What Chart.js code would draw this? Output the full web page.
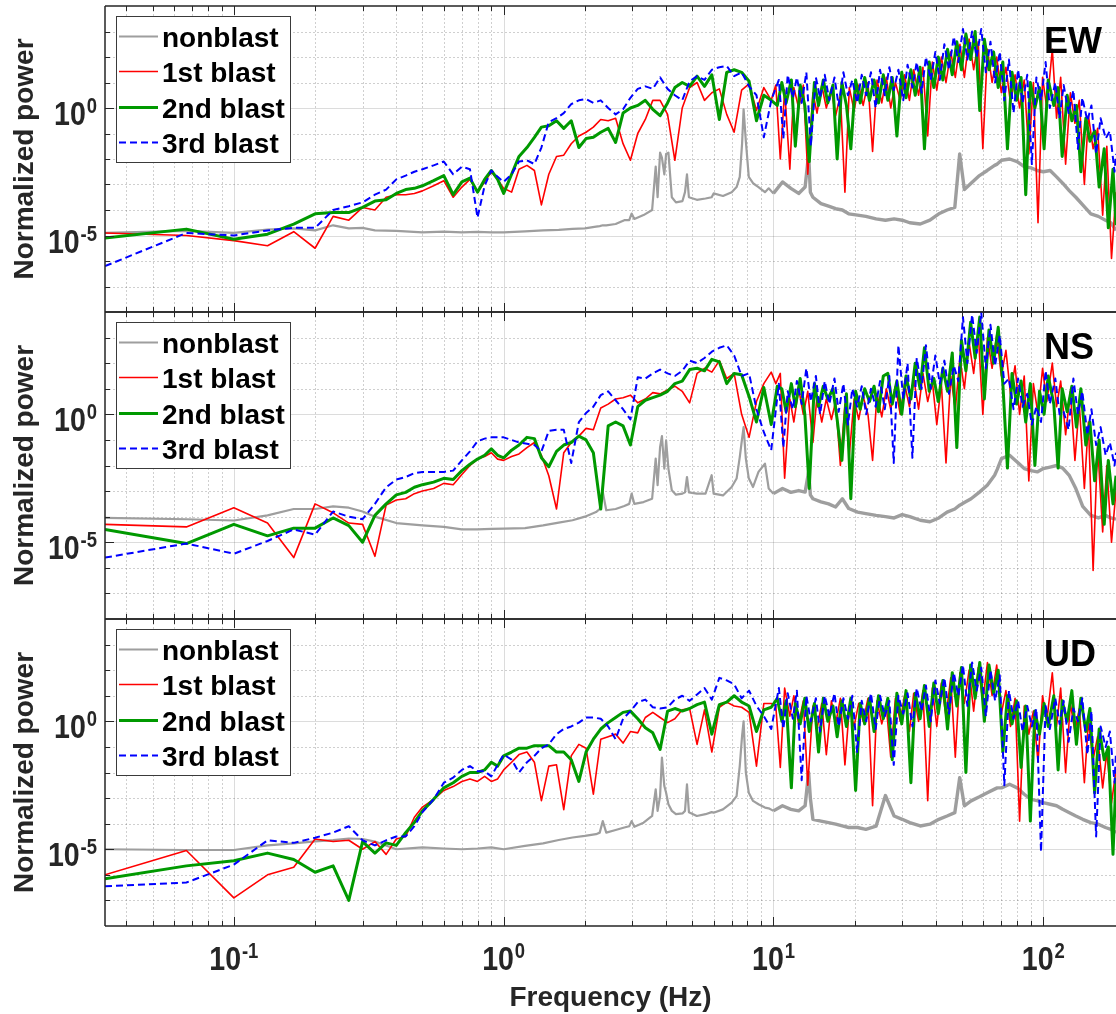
<!DOCTYPE html>
<html>
<head>
<meta charset="utf-8">
<title>Normalized power spectra</title>
<script src="https://cdn.jsdelivr.net/npm/chart.js@4.4.1/dist/chart.umd.min.js"></script>
<style>
  html, body { margin: 0; padding: 0; background: #fff; }
  #wrap { position: relative; width: 1116px; height: 1014px; overflow: hidden; }
  #wrap canvas { position: absolute; left: 0; top: 0; }
</style>
</head>
<body>
<div id="wrap">
  <canvas id="ew" width="1116" height="1014"></canvas>
  <canvas id="ns" width="1116" height="1014"></canvas>
  <canvas id="ud" width="1116" height="1014"></canvas>
</div>
<script>
// frequency bins (Hz) below 10 Hz, shared by the three blast records
const blastFreq = [
  0.0333, 0.0667, 0.1, 0.1333, 0.1667, 0.2, 0.2333, 0.2667, 0.3, 0.3333, 0.3667, 0.4, 0.4333, 0.4667, 0.5,
  0.55, 0.6, 0.65, 0.7, 0.75, 0.8, 0.85, 0.9, 0.95, 1.0,
  1.07, 1.14, 1.22, 1.3, 1.38, 1.47, 1.57, 1.67, 1.78, 1.9, 2.02, 2.15, 2.29, 2.44, 2.6, 2.77, 2.95, 3.14,
  3.35, 3.57, 3.8, 4.05, 4.31, 4.59, 4.89, 5.21, 5.55, 5.91, 6.3, 6.71, 7.15, 7.62, 8.12, 8.65, 9.21, 9.81
];
// bins above 10 Hz, one list per blast
const denseFreq1 = [
  10.2, 10.6, 11.0, 11.5, 11.9, 12.4, 12.9, 13.4, 14.0, 14.5, 15.1, 15.7, 16.4, 17.0, 17.7, 18.4, 19.1, 19.9,
  20.7, 21.5, 22.4, 23.3, 24.2, 25.2, 26.2, 27.2, 28.3, 29.5, 30.6, 31.9, 33.1, 34.5, 35.8, 37.3, 38.8, 40.3,
  41.9, 43.6, 45.4, 47.2, 49.1, 51.0, 53.1, 55.2, 57.4, 59.7, 62.1, 64.6, 67.2, 69.9, 72.7, 75.6, 78.6, 81.7,
  85.0, 88.4, 91.9, 95.6, 99.4, 103, 108, 112, 116, 121, 126, 131, 136, 142, 147, 153, 159, 166, 172, 179, 186
];
const denseFreq2 = [
  10.33, 10.74, 11.14, 11.65, 12.05, 12.56, 13.07, 13.57, 14.18, 14.69, 15.3, 15.9, 16.61, 17.22, 17.93, 18.64, 19.35, 20.16,
  20.97, 21.78, 22.69, 23.6, 24.51, 25.53, 26.54, 27.55, 28.67, 29.88, 31.0, 32.31, 33.53, 34.95, 36.27, 37.78, 39.3, 40.82,
  42.44, 44.17, 45.99, 47.81, 49.74, 51.66, 53.79, 55.92, 58.15, 60.48, 62.91, 65.44, 68.07, 70.81, 73.65, 76.58, 79.62, 82.76,
  86.1, 89.55, 93.09, 96.84, 100.7, 104.3, 109.4, 113.5, 117.5, 122.6, 127.6, 132.7, 137.8, 143.8, 148.9, 155.0, 161.1, 168.2, 174.2, 181.3, 186
];
const denseFreq3 = [
  10.47, 10.88, 11.29, 11.8, 12.21, 12.72, 13.24, 13.75, 14.36, 14.88, 15.49, 16.11, 16.83, 17.44, 18.16, 18.88, 19.6, 20.42,
  21.24, 22.06, 22.98, 23.91, 24.83, 25.86, 26.88, 27.91, 29.04, 30.27, 31.4, 32.73, 33.96, 35.4, 36.73, 38.27, 39.81, 41.35,
  42.99, 44.73, 46.58, 48.43, 50.38, 52.33, 54.48, 56.64, 58.89, 61.25, 63.71, 66.28, 68.95, 71.72, 74.59, 77.57, 80.64, 83.82,
  87.21, 90.7, 94.29, 98.09, 102.0, 105.7, 110.8, 114.9, 119.0, 124.1, 129.3, 134.4, 139.5, 145.7, 150.8, 157.0, 163.1, 170.3, 176.5, 183.7, 186
];

// frequency bins (Hz) of the nonblast record
const nonblastFreq = [
  0.0333, 0.0667, 0.1, 0.1333, 0.1667, 0.2, 0.2333, 0.2667, 0.3, 0.3333,
  0.4, 0.5, 0.6, 0.7, 0.8, 0.9, 1.0, 1.2, 1.4, 1.6,
  1.8, 2.0, 2.2, 2.27, 2.33, 2.4, 2.6, 2.8, 2.92, 2.98,
  3.05, 3.3, 3.55, 3.66, 3.72, 3.8, 3.86, 3.94, 4.0, 4.08,
  4.2, 4.35, 4.6, 4.7, 4.78, 4.86, 5.2, 5.6, 5.9, 6.0,
  6.5, 7.0, 7.3, 7.5, 7.65, 7.75, 7.9, 8.1, 8.4, 8.8,
  9.3, 9.6, 10, 10.8, 11.6, 12.4, 13.1, 13.5, 13.7, 14.0,
  15, 16, 17, 18, 19, 20.5, 22, 24, 26, 28,
  30, 32, 35, 38, 41, 44, 47, 49, 51, 54,
  58, 62, 66, 67.5, 70, 75, 80, 85, 90, 95,
  100, 106, 112, 118, 125, 132, 140, 150, 160, 170,
  178, 186
];

// normalized power, stored as log10 exponents

// EW component
const ewNonblast = [
  -4.9, -4.82, -4.9, -4.77, -4.72, -4.8, -4.6, -4.72, -4.7, -4.8,
  -4.82, -4.88, -4.85, -4.88, -4.86, -4.88, -4.88, -4.84, -4.8, -4.78,
  -4.74, -4.72, -4.65, -4.63, -4.6, -4.6, -4.55, -4.4, -4.4, -4.14,
  -4.35, -4.2, -4.0, -2.3, -3.5, -1.75, -1.95, -2.6, -1.8, -1.75,
  -3.5, -3.7, -3.65, -3.3, -2.6, -3.5, -3.6, -3.55, -3.5, -3.35,
  -3.45, -3.3, -3.1, -2.7, -1.4, -0.05, -1.3, -2.7, -2.95, -3.1,
  -3.3, -3.15, -3.35, -2.9, -3.15, -3.35, -3.1, -1.8, -3.3, -3.5,
  -3.75, -3.85, -3.95, -4.0, -4.15, -4.2, -4.25, -4.35, -4.4, -4.35,
  -4.4, -4.5, -4.55, -4.4, -4.15, -4.0, -3.9, -1.8, -3.2, -2.95,
  -2.65, -2.45, -2.25, -2.2, -2.05, -2.0, -2.1, -2.3, -2.35, -2.45,
  -2.5, -2.45, -2.7, -2.95, -3.25, -3.5, -3.8, -4.15, -4.25, -4.4,
  -4.5, -4.8
];
const ewBlast1 = [
  -4.9, -5.0, -5.2, -5.4, -4.85, -5.5, -4.25, -4.4, -3.9, -4.0, -3.5, -3.4, -3.4, -3.35, -3.25,
  -3.05, -2.85, -3.5, -3.1, -2.8, -3.3, -2.9, -2.5, -2.8, -3.15,
  -3.3, -2.4, -2.25, -2.45, -3.8, -2.6, -1.9, -1.85, -1.4, -1.1, -0.95, -0.75, -0.45, -0.5, -0.4, -1.4, -2.05, -1.0,
  -0.45, 0.3, 0.3, -0.25, -2.05, 0.0, 0.8, 1.0, 0.3, 0.6, 0.75, -0.25, -0.95, 0.7, 0.95, -0.1, 0.8, 0.3,
  0.9, -2.0, 0.7, -2.4, 0.8, 0.0, 0.9, -2.6, 0.6, -0.2, 0.9, 0.0, 0.7, -0.3, 0.5, -3.3, 0.8, -0.1,
  0.9, 0.1, 1.0, -1.7, 1.1, 0.2, 1.2, 0.0, 1.0, 0.3, 1.3, 0.3, 1.5, 0.5, 1.6, -1.1, 1.8, 0.7,
  2.0, 1.0, 2.2, 1.2, 2.5, 1.2, 2.7, 1.5, 2.6, -1.6, 2.3, 1.0, 2.0, 0.6, 1.6, 0.2, 1.3, 0.0,
  1.1, -1.8, 1.0, -4.5, 1.2, 0.0, 2.3, -0.4, 1.2, -2.2, 0.6, -0.6, 0.3, -3.0, -0.3, -1.6, -0.8, -4.2, -1.5, -5.9, -3.3
];
const ewBlast2 = [
  -5.1, -4.75, -5.15, -4.95, -4.55, -4.15, -4.1, -4.1, -3.9, -3.65, -3.6, -3.35, -3.2, -3.15, -3.05,
  -2.85, -2.65, -3.4, -2.9, -2.75, -3.3, -2.8, -2.45, -2.8, -3.35,
  -2.6, -1.9, -1.55, -1.15, -0.75, -0.7, -0.5, -0.8, -0.5, -1.55, -1.2, -1.15, -0.95, -0.8, -1.35, -0.2, 0.0, 0.1,
  0.3, -0.05, -0.3, 0.2, 0.8, 1.0, 0.85, 1.25, 0.85, 1.3, -0.45, 1.4, 1.5, 1.4, 1.05, -0.5, 0.5, 0.3,
  0.1, 1.0, 0.2, 1.1, -1.5, 0.9, 0.1, -2.1, 1.0, 0.1, 1.1, 0.2, 0.9, -2.0, 1.0, 0.1, -1.6, 1.1,
  0.2, 1.2, 0.3, 1.1, 0.2, 1.3, 0.3, 1.2, -1.1, 1.4, 0.4, 1.5, 0.5, 1.6, -1.6, 1.8, 0.8, 2.0,
  1.1, 2.3, 1.3, 2.6, 1.5, 2.9, 1.9, 3.0, -0.1, 2.7, 1.5, 2.2, 0.8, 1.8, -1.6, 1.4, 0.3, 1.2,
  -3.4, 1.0, 0.0, 0.8, -1.6, 1.1, 0.1, 0.8, -1.9, 0.5, -0.5, 0.1, -2.5, -0.4, -1.3, -0.9, -3.1, -1.6, -4.7, -2.4, -4.6
];
const ewBlast3 = [
  -6.2, -4.9, -5.0, -4.8, -4.7, -4.7, -4.0, -3.85, -3.7, -3.4, -3.2, -2.8, -2.65, -2.5, -2.4,
  -2.25, -2.1, -2.6, -2.3, -2.4, -4.3, -3.05, -2.45, -2.7, -2.9,
  -2.6, -2.1, -2.05, -2.2, -1.55, -0.55, -0.4, -0.2, 0.15, 0.3, 0.35, 0.2, 0.3, 0.0, -0.25, -0.05, 0.4, 0.75,
  0.85, 0.75, 1.2, 0.75, 0.5, 0.3, 1.05, 1.25, 1.1, 1.5, 1.6, 1.65, 1.25, 1.4, 0.85, 0.5, -1.15, 0.3,
  1.1, -1.2, 1.3, 0.4, 1.2, 0.2, 1.4, -1.5, 1.2, 0.4, 1.3, 0.3, 1.2, 0.1, 1.4, 0.5, 1.1, 0.2,
  1.3, 0.5, 1.4, 0.0, 1.5, 0.5, 1.6, 0.7, 1.5, 0.3, 1.7, 0.8, 1.8, 0.6, 2.0, 1.1, 2.2, 1.1,
  2.5, 1.5, 2.8, 1.8, 3.1, 1.9, 3.0, 2.0, 3.1, 1.4, 2.6, 1.0, 2.2, 0.3, 1.9, -0.2, 1.5, 0.2,
  1.3, -2.2, 1.2, 0.3, 1.8, 0.0, 1.0, -0.4, 0.9, -0.2, 0.7, -1.6, 0.4, -0.5, 0.1, -1.8, -0.4, -1.2, -0.9, -2.5, -1.8
];

// NS component
const nsNonblast = [
  -4.05, -4.1, -4.15, -3.95, -3.7, -3.7, -3.6, -3.65, -3.8, -4.0,
  -4.25, -4.34, -4.4, -4.5, -4.5, -4.48, -4.47, -4.45, -4.34, -4.23,
  -4.14, -4.0, -3.82, -3.7, -3.03, -3.75, -3.7, -3.58, -3.5, -3.1,
  -3.5, -3.43, -3.3, -1.73, -2.77, -1.28, -0.85, -2.12, -1.02, -2.12,
  -2.97, -3.14, -3.1, -3.05, -2.45, -3.05, -3.1, -3.1, -2.38, -3.1,
  -3.17, -2.84, -2.51, -1.67, -0.95, -0.5, -1.73, -2.5, -2.84, -2.25,
  -1.93, -2.9, -3.1, -2.9, -3.05, -2.98, -3.04, -2.25, -3.15, -3.3,
  -3.42, -3.5, -3.62, -3.3, -3.68, -3.82, -3.88, -3.95, -4.0, -4.05,
  -3.92, -4.0, -4.14, -4.2, -4.05, -3.82, -3.7, -3.55, -3.45, -3.3,
  -3.04, -2.77, -2.38, -2.15, -1.73, -1.6, -1.86, -2.12, -2.2, -2.25,
  -2.12, -2.06, -2.0, -2.1, -2.4, -2.9, -3.6, -3.95, -4.05, -3.95,
  -4.05, -4.1
];
const nsBlast1 = [
  -4.3, -4.4, -3.65, -4.25, -5.6, -3.5, -3.85, -4.25, -4.3, -5.55, -3.55, -3.35, -3.3, -3.1, -3.0,
  -2.9, -2.7, -2.75, -2.35, -2.0, -1.75, -1.65, -1.5, -1.75, -1.8,
  -1.65, -1.55, -1.3, -1.1, -1.6, -2.4, -3.7, -1.5, -1.1, -0.85, -0.55, -0.6, 0.25, 0.4, 0.6, 0.65, 0.75, 0.45,
  0.6, 0.85, 0.8, 0.95, 1.1, 0.9, 0.45, 1.6, 1.8, 1.65, 2.1, 1.4, 1.6, 0.0, -0.9, 0.5, 1.2, 1.65,
  1.2, 1.6, -2.5, 0.6, -0.3, 1.0, 0.0, 0.9, -1.1, 0.7, -0.3, 0.6, -0.2, 0.5, -2.0, 0.4, -1.6, 0.6,
  -0.2, 0.7, 0.0, -1.8, 0.8, -0.1, 1.0, 0.2, 1.1, 0.0, 1.2, 0.3, 1.4, 0.2, 1.6, 0.5, 1.3, -0.4,
  1.2, -1.9, 1.5, 0.2, 2.2, 1.0, 2.8, 1.6, 3.2, 0.0, 3.0, 1.8, 3.1, 1.5, 2.5, 0.8, 1.9, 0.0,
  1.5, -2.6, 1.2, 0.0, 1.8, 0.5, 2.0, 0.3, 1.3, -0.8, 0.9, -1.8, 0.4, -2.9, -0.3, -6.1, -1.2, -4.6, -2.0, -5.0, -3.0
];
const nsBlast2 = [
  -4.5, -5.05, -4.3, -4.75, -4.45, -4.45, -4.05, -4.35, -5.0, -3.95, -3.5, -3.15, -3.05, -2.85, -2.75,
  -2.65, -2.5, -2.55, -2.2, -1.95, -1.75, -1.6, -1.35, -1.6, -1.7,
  -1.4, -1.2, -0.9, -0.95, -1.7, -2.05, -1.45, -1.2, -1.1, -0.85, -1.0, -1.5, -3.7, -0.45, -0.3, -0.45, -1.2, 0.3,
  0.55, 0.65, 0.75, 0.9, 1.2, 1.3, 1.75, 1.8, 1.7, 2.15, 2.05, 1.2, 1.6, 1.55, 0.7, -0.3, 1.05, -0.4,
  1.1, 1.0, 0.1, 1.2, 0.3, 1.4, 0.0, -2.9, 1.2, 0.3, 1.1, 0.6, 1.0, -0.2, -1.8, 0.8, -3.3, 0.9,
  0.2, 1.0, 0.5, 1.1, 0.1, 1.5, 1.6, 0.4, 1.3, 0.0, 1.5, 0.6, 2.0, 1.0, 2.6, 0.9, 1.4, 0.5,
  1.8, 0.9, 2.4, -1.3, 2.9, 1.7, 3.6, 2.2, 3.8, 0.6, 3.3, 2.0, 3.4, 1.2, -2.1, 1.6, 0.4, 1.3,
  -0.3, 1.2, -2.0, 0.9, 0.0, 1.5, 0.4, -2.1, 1.0, 0.1, 1.1, -0.5, 1.0, -1.2, -0.3, -2.6, -1.0, -4.3, -1.8, -3.5, -2.4
];
const nsBlast3 = [
  -5.6, -5.05, -5.45, -4.95, -4.5, -4.7, -3.8, -4.0, -4.1, -3.5, -2.85, -2.55, -2.45, -2.3, -2.25,
  -2.25, -2.25, -2.2, -1.8, -1.45, -1.05, -0.95, -0.9, -0.9, -0.9,
  -1.0, -1.1, -1.15, -1.2, -1.45, -0.65, -0.6, -0.6, -1.9, -0.3, 0.05, 0.3, 0.75, 0.9, 0.55, 0.2, -0.2, 1.45,
  1.4, 1.6, 1.75, 1.6, 1.5, 1.7, 2.1, 2.0, 2.2, 2.45, 2.6, 2.7, 2.3, 1.5, 1.6, 0.2, -0.7, -1.4,
  1.2, -1.3, 0.9, 0.2, 1.3, 0.4, 1.8, 0.5, 1.5, 0.0, 1.3, 0.4, 1.4, 0.1, 1.2, -0.4, 1.0, 0.3,
  1.1, 0.0, 1.0, 0.3, 1.3, 0.2, 1.5, -1.9, 2.7, 0.6, 2.0, -1.7, 2.2, 1.0, 2.7, 1.0, 2.3, 1.2,
  2.1, 0.8, 1.9, 1.3, 3.8, 2.0, 3.9, 2.4, 4.0, 1.8, 3.5, 1.9, 3.1, 1.2, 1.4, 0.2, 1.4, 0.3,
  0.8, -0.4, 0.3, -0.3, 1.7, 0.4, 1.4, 0.0, 0.1, -0.6, 1.4, 0.0, 0.9, -0.8, 0.2, -1.2, -0.5, -1.6, -1.1, -2.0, -1.5
];

// UD component
const udNonblast = [
  -5.0, -5.03, -5.03, -4.85, -4.77, -4.69, -4.64, -4.58, -4.6, -4.7,
  -5.0, -4.93, -4.97, -5.0, -4.97, -4.93, -5.0, -4.87, -4.77, -4.64,
  -4.54, -4.48, -4.41, -4.35, -3.9, -4.35, -4.25, -4.15, -4.1, -3.9,
  -4.12, -3.96, -3.7, -2.66, -3.5, -2.92, -1.42, -2.53, -2.79, -3.24,
  -3.5, -3.63, -3.6, -3.5, -2.46, -3.55, -3.7, -3.63, -3.55, -3.57,
  -3.44, -3.18, -2.92, -1.74, -0.57, 0.0, -2.0, -2.79, -3.11, -3.24,
  -3.37, -3.4, -3.5, -3.3, -3.44, -3.5, -3.3, -2.0, -3.0, -3.83,
  -3.9, -3.96, -4.02, -4.09, -4.15, -4.15, -4.22, -4.1, -2.9, -3.7,
  -3.83, -3.96, -4.09, -4.02, -3.83, -3.7, -3.57, -2.2, -3.3, -3.11,
  -2.95, -2.79, -2.65, -2.6, -2.6, -2.46, -2.6, -2.85, -3.05, -3.1,
  -3.18, -3.24, -3.3, -3.44, -3.57, -3.7, -3.83, -3.96, -4.02, -4.15,
  -4.22, -4.35
];
const udBlast1 = [
  -6.0, -5.05, -6.9, -6.0, -5.7, -4.6, -4.7, -4.65, -5.0, -4.7, -5.2, -4.6, -4.5, -3.75, -3.35,
  -3.05, -2.7, -2.55, -2.35, -2.25, -2.35, -2.15, -2.35, -2.25, -1.9,
  -1.6, -1.3, -1.2, -1.6, -3.1, -1.75, -1.7, -3.45, -1.35, -0.9, -1.05, -2.85, -0.7, -0.6, -0.5, -0.85, -0.4, -0.45,
  0.15, 0.35, 0.15, -0.05, 0.1, 0.45, 0.5, -0.9, 0.45, -1.2, 0.55, 0.75, 0.6, 0.55, 0.35, -1.75, 0.7, 0.7,
  0.6, -1.8, 1.3, 0.2, 1.0, -0.1, 0.8, -2.5, 0.6, -0.3, 0.7, -1.3, 0.8, -0.1, 0.9, -1.7, 0.5, -0.2,
  0.7, 0.0, 0.9, -3.3, 0.8, -0.1, 0.6, -1.4, 0.9, 0.0, 1.0, -0.4, 1.1, 0.0, 1.2, -3.1, 1.3, -0.2,
  1.5, 0.2, 1.7, -1.4, 1.9, 0.7, 2.0, 0.4, 2.1, 0.8, 2.3, 1.0, 2.2, 0.3, 1.2, -0.2, 0.9, -3.9,
  0.6, -0.5, 0.4, -1.6, 1.0, 0.0, 1.9, -0.2, 1.3, -2.0, 0.7, -0.4, 0.5, -2.4, 0.0, -1.5, -0.6, -2.6, -1.2, -3.2, -1.9
];
const udBlast2 = [
  -6.15, -5.65, -5.45, -5.15, -5.4, -5.9, -5.65, -7.0, -4.7, -5.15, -4.75, -4.85, -4.35, -3.95, -3.5,
  -3.05, -2.6, -2.4, -2.15, -2.0, -2.0, -1.9, -1.6, -1.75, -1.35,
  -1.2, -1.05, -1.05, -0.95, -0.95, -0.95, -1.2, -1.2, -1.5, -2.35, -1.2, -0.7, -0.3, -0.05, 0.15, 0.35, 0.4, 0.1,
  -0.25, -0.45, -1.1, 0.4, 0.5, 0.4, 0.5, 0.65, 0.75, -0.5, 0.65, 0.75, 1.0, 0.75, 0.6, -0.4, 0.45, 0.55,
  0.9, 0.0, 0.8, -2.6, 0.7, -0.1, 0.9, -0.4, 0.7, -1.2, 0.9, 0.0, 0.6, -0.6, 0.8, -0.2, 0.9, -2.7,
  0.7, -0.1, 0.9, -0.4, 1.0, 0.1, 0.9, -1.5, 1.1, -0.1, 1.2, -2.4, 1.1, 0.1, 1.4, -0.2, 1.5, 0.3,
  1.6, -0.3, 1.9, 0.6, 2.1, -2.0, 2.2, 0.9, 2.3, 0.0, 2.2, 1.1, 2.0, -1.2, 1.0, -0.1, 0.8, -1.8,
  0.6, -3.9, 0.4, -0.5, 0.7, -0.2, 1.0, -1.9, 0.8, 0.0, 1.2, -0.9, 0.9, -0.4, 0.5, -2.8, -0.3, -1.5, -1.0, -5.2, -2.2
];
const udBlast3 = [
  -6.45, -6.3, -5.6, -4.65, -4.75, -4.55, -4.35, -4.1, -4.65, -4.85, -4.65, -4.5, -4.5, -4.1, -3.55,
  -3.05, -2.4, -2.2, -1.9, -1.75, -1.95, -1.95, -2.15, -1.7, -1.3,
  -1.5, -2.0, -1.6, -1.35, -1.05, -0.9, -0.5, -0.3, -0.2, -0.05, 0.15, 0.15, 0.1, -0.2, -0.7, 0.1, 0.4, 0.75,
  0.85, 0.55, 0.5, 0.55, 0.85, 1.0, 0.8, 1.05, 1.3, 0.85, 1.7, 1.6, 1.45, 0.9, 1.2, 0.6, 0.2, -0.3,
  1.3, -0.3, 1.1, 0.1, 1.2, -2.3, 1.0, 0.0, 0.9, -0.4, 1.0, 0.2, 1.1, -0.2, 0.9, 0.1, 1.0, -1.2,
  0.8, 0.0, 1.1, -0.3, 1.0, 0.2, 0.8, -1.7, 1.0, 0.3, 1.1, -0.2, 1.3, 0.4, 1.4, 0.0, 1.6, 0.7,
  1.7, 0.3, 1.9, 1.0, 2.2, 0.6, 2.3, 1.2, 2.1, 0.2, 2.0, 0.8, 1.8, -2.5, 1.2, 0.1, 0.8, -0.4,
  0.6, -0.2, 0.5, -5.1, 0.6, -0.3, 0.9, -0.1, 0.8, -0.8, 0.5, 0.0, 0.9, -1.3, 0.4, -4.5, -0.2, -1.0, -0.4, -2.4, -1.2
];

const seriesNames = ["nonblast", "1st blast", "2nd blast", "3rd blast"];
const componentNames = ["EW", "NS", "UD"];
const xTickPowers = [-1, 0, 1, 2];
const yTickPowers = [-5, 0];
const xLimits = [0.0333, 186];
const yLimits = [1e-8, 1e4];

// look of each record, in legend order
const seriesStyles = [
  { color: "#9e9e9e", width: 2.2, dash: [] },
  { color: "#ff0000", width: 1.6, dash: [] },
  { color: "#009900", width: 3, dash: [] },
  { color: "#0000ff", width: 2, dash: [7, 4] }
];
// the nonblast trace is noisier (drawn heavier) above this frequency
const noisyFrom = 10;

// vertical extent of the three stacked axes on the page
const panelTop = [6, 312, 619];
const panelBottom = [312, 619, 926];
const pageH = 1014;

const ink = "#262626";
const fontFamily = "'Liberation Sans', Arial, Helvetica, sans-serif";
const titleFont = "bold 28px " + fontFamily;
const tickFont = "bold 34px " + fontFamily;
const supFont = "bold 22px " + fontFamily;
const nameFont = "bold 36px " + fontFamily;
const tickSquash = 0.84;

function toPoints(freqs, exps) {
    return freqs.map((f, i) => ({ x: f, y: Math.pow(10, exps[i]) }));
}

// x positions for each record: nonblast has its own bins, blasts share the low bins
function freqsFor(k) {
    if (k === 0) return nonblastFreq;
    return blastFreq.concat([denseFreq1, denseFreq2, denseFreq3][k - 1]);
}

// 1..9 x 10^n positions inside a log range
function logSteps(lo, hi) {
    const out = [];
    for (let e = Math.floor(Math.log10(lo)); e <= Math.ceil(Math.log10(hi)); e++) {
        for (let m = 1; m <= 9; m++) {
            const v = m * Math.pow(10, e);
            if (v > lo * 1.001 && v < hi / 1.001) out.push({ v: v, major: m === 1 });
        }
    }
    return out;
}

function yDecades(yScale) {
    const out = [];
    const lo = Math.round(Math.log10(yScale.min)), hi = Math.round(Math.log10(yScale.max));
    for (let e = lo + 1; e < hi; e++) out.push(e);
    return out;
}

// "10" with a raised exponent, squeezed a little like the original tick font
function powerWidth(ctx, p) {
    ctx.font = tickFont;
    const a = ctx.measureText("10").width;
    ctx.font = supFont;
    const b = ctx.measureText(String(p)).width;
    return (a + b + 1) * tickSquash;
}

function drawPower(ctx, p, left, baseline, raise) {
    ctx.save();
    ctx.translate(left, baseline);
    ctx.scale(tickSquash, 1);
    ctx.textAlign = "left";
    ctx.textBaseline = "alphabetic";
    ctx.fillStyle = ink;
    ctx.font = tickFont;
    ctx.fillText("10", 0, 0);
    const w = ctx.measureText("10").width;
    ctx.font = supFont;
    ctx.fillText(String(p), w + 1, -raise);
    ctx.restore();
}

function drawGrid(chart) {
    const { ctx, chartArea: a, scales: { x, y } } = chart;
    ctx.save();
    ctx.lineWidth = 1;

    // dotted minor grid
    ctx.strokeStyle = "rgba(38,38,38,0.22)";
    ctx.setLineDash([2, 2]);
    ctx.beginPath();
    logSteps(x.min, x.max).forEach(t => {
        if (t.major) return;
        const px = Math.round(x.getPixelForValue(t.v)) + 0.5;
        ctx.moveTo(px, a.top);
        ctx.lineTo(px, a.bottom);
    });
    yDecades(y).forEach(e => {
        if (yTickPowers.includes(e)) return;
        const py = Math.round(y.getPixelForValue(Math.pow(10, e))) + 0.5;
        ctx.moveTo(a.left, py);
        ctx.lineTo(a.right, py);
    });
    ctx.stroke();

    // solid major grid
    ctx.setLineDash([]);
    ctx.strokeStyle = "rgba(38,38,38,0.16)";
    ctx.beginPath();
    logSteps(x.min, x.max).forEach(t => {
        if (!t.major) return;
        const px = Math.round(x.getPixelForValue(t.v)) + 0.5;
        ctx.moveTo(px, a.top);
        ctx.lineTo(px, a.bottom);
    });
    yTickPowers.forEach(e => {
        const py = Math.round(y.getPixelForValue(Math.pow(10, e))) + 0.5;
        ctx.moveTo(a.left, py);
        ctx.lineTo(a.right, py);
    });
    ctx.stroke();
    ctx.restore();
}

function drawAxes(chart, showX) {
    const { ctx, chartArea: a, scales: { x, y } } = chart;
    ctx.save();

    // box (top, bottom, left)
    ctx.strokeStyle = ink;
    ctx.lineWidth = 1.5;
    ctx.beginPath();
    ctx.moveTo(a.left, a.top);
    ctx.lineTo(a.right, a.top);
    ctx.moveTo(a.left, a.bottom);
    ctx.lineTo(a.right, a.bottom);
    ctx.moveTo(a.left, a.top);
    ctx.lineTo(a.left, a.bottom);
    ctx.stroke();

    // inward ticks
    ctx.lineWidth = 1;
    ctx.beginPath();
    logSteps(x.min, x.max).forEach(t => {
        const px = Math.round(x.getPixelForValue(t.v)) + 0.5;
        const len = t.major ? 9 : 5;
        ctx.moveTo(px, a.bottom);
        ctx.lineTo(px, a.bottom - len);
        ctx.moveTo(px, a.top);
        ctx.lineTo(px, a.top + len);
    });
    yDecades(y).forEach(e => {
        const py = Math.round(y.getPixelForValue(Math.pow(10, e))) + 0.5;
        const len = yTickPowers.includes(e) ? 9 : 5;
        ctx.moveTo(a.left, py);
        ctx.lineTo(a.left + len, py);
    });
    ctx.stroke();

    // y tick labels
    yTickPowers.forEach(p => {
        const py = y.getPixelForValue(Math.pow(10, p));
        const w = powerWidth(ctx, p);
        drawPower(ctx, p, a.left - 8 - w, py + 17, 12);
    });

    // y axis title
    ctx.save();
    ctx.translate(33, (a.top + a.bottom) / 2);
    ctx.rotate(-Math.PI / 2);
    ctx.font = titleFont;
    ctx.fillStyle = ink;
    ctx.textAlign = "center";
    ctx.textBaseline = "alphabetic";
    ctx.fillText("Normalized power", 0, 0);
    ctx.restore();

    if (showX) {
        xTickPowers.forEach(p => {
            const px = x.getPixelForValue(Math.pow(10, p));
            const w = powerWidth(ctx, p);
            drawPower(ctx, p, px - w / 2, a.bottom + 44, 12);
        });
        ctx.font = titleFont;
        ctx.fillStyle = ink;
        ctx.textAlign = "center";
        ctx.textBaseline = "alphabetic";
        ctx.fillText("Frequency (Hz)", (a.left + a.right) / 2, a.bottom + 80);
    }
    ctx.restore();
}

function drawLegend(chart) {
    const { ctx, chartArea: a } = chart;
    const left = 116, top = a.top + 10, w = 174, h = 146;
    ctx.save();
    ctx.fillStyle = "#ffffff";
    ctx.fillRect(left, top, w, h);
    ctx.strokeStyle = "#3a3a3a";
    ctx.lineWidth = 1;
    ctx.strokeRect(left + 0.5, top + 0.5, w, h);
    ctx.font = titleFont;
    ctx.textAlign = "left";
    ctx.textBaseline = "alphabetic";
    chart.data.datasets.forEach((ds, i) => {
        const base = top + 31 + i * 35.4;
        const ly = Math.round(base - 11) + 0.5;
        ctx.strokeStyle = ds.borderColor;
        ctx.lineWidth = ds.borderWidth;
        ctx.setLineDash(ds.borderDash);
        ctx.beginPath();
        ctx.moveTo(119, ly);
        ctx.lineTo(158, ly);
        ctx.stroke();
        ctx.setLineDash([]);
        ctx.fillStyle = "#000000";
        ctx.fillText(ds.label, 162, base);
    });
    ctx.restore();
}

const panelFrame = {
    id: "panelFrame",
    beforeDatasetsDraw(chart) {
        drawGrid(chart);
    },
    afterDatasetsDraw(chart, args, opts) {
        drawAxes(chart, opts.showX);
        drawLegend(chart);
        const { ctx, chartArea: a } = chart;
        ctx.save();
        ctx.font = nameFont;
        ctx.fillStyle = "#000000";
        ctx.textAlign = "left";
        ctx.textBaseline = "alphabetic";
        ctx.fillText(opts.name, 1044, a.top + 47);
        ctx.restore();
    }
};

function makePanel(canvasId, index, records) {
    const datasets = records.map((rec, k) => {
        const ds = {
            label: seriesNames[k],
            data: toPoints(freqsFor(k), rec),
            borderColor: seriesStyles[k].color,
            borderWidth: seriesStyles[k].width,
            borderDash: seriesStyles[k].dash,
            borderJoinStyle: "round",
            pointRadius: 0,
            fill: false,
            tension: 0,
            clip: 0,
            order: records.length - k   // later records are drawn on top
        };
        if (k === 0) {
            ds.segment = { borderWidth: c => (c.p0.parsed.x >= noisyFrom ? 3.4 : undefined) };
        }
        return ds;
    });

    return new Chart(document.getElementById(canvasId), {
        type: "line",
        data: { datasets: datasets },
        options: {
            responsive: false,
            maintainAspectRatio: false,
            animation: false,
            devicePixelRatio: 1,
            events: [],
            layout: {
                padding: { left: 105, right: 0, top: panelTop[index], bottom: pageH - panelBottom[index] }
            },
            scales: {
                x: { type: "logarithmic", min: xLimits[0], max: xLimits[1], display: false },
                y: { type: "logarithmic", min: yLimits[0], max: yLimits[1], display: false }
            },
            plugins: {
                legend: { display: false },
                tooltip: { enabled: false },
                panelFrame: { name: componentNames[index], showX: index === 2 }
            }
        },
        plugins: [panelFrame]
    });
}

makePanel("ew", 0, [ewNonblast, ewBlast1, ewBlast2, ewBlast3]);
makePanel("ns", 1, [nsNonblast, nsBlast1, nsBlast2, nsBlast3]);
makePanel("ud", 2, [udNonblast, udBlast1, udBlast2, udBlast3]);
</script>
</body>
</html>
